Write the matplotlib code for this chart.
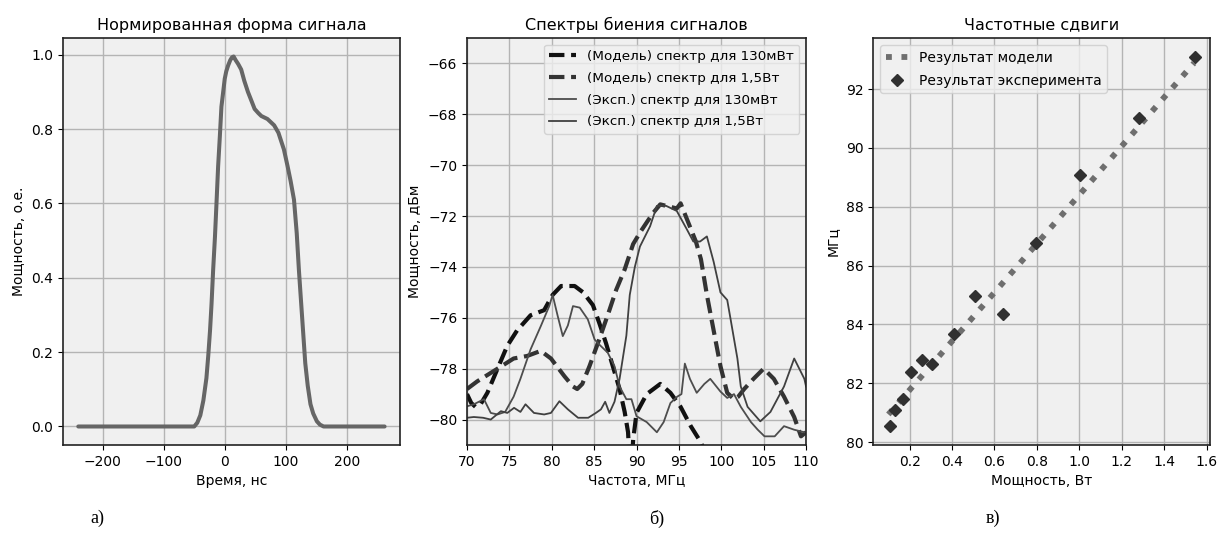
import matplotlib
matplotlib.use("Agg")
import matplotlib.pyplot as plt

# --- a) normalised pulse shape ---
t_ns = [-240, -50, -45, -40, -35, -30, -27, -24, -21.6, -19, -16, -13.5, -10.8,
        -8, -5.4, -2.5, 0, 2.5, 5.4, 9, 12, 14.6, 18, 22, 27, 32, 38, 44, 49,
        55, 60, 70, 81, 88, 92, 97, 103, 108, 113.5, 118, 121.6, 124.5, 127,
        129.5, 132, 136, 140.5, 145, 151, 156, 162, 262]
p_norm = [0.0, 0.0, 0.01, 0.03, 0.07, 0.13, 0.19, 0.26, 0.33, 0.42, 0.51, 0.60,
          0.70, 0.78, 0.86, 0.90, 0.935, 0.955, 0.97, 0.985, 0.993, 0.995,
          0.985, 0.975, 0.96, 0.93, 0.90, 0.875, 0.854, 0.843, 0.835, 0.827,
          0.81, 0.79, 0.77, 0.745, 0.70, 0.66, 0.61, 0.52, 0.42, 0.35, 0.29,
          0.23, 0.17, 0.11, 0.06, 0.035, 0.014, 0.005, 0.0, 0.0]

# --- b) beat spectra ---
m130_f = [70, 70.5, 71.0, 71.6, 72.4, 73.6, 74.75, 75.9, 77.5, 79.1, 80.1, 81.1,
          82.0, 82.7, 83.7, 84.85, 85.6, 86.4, 87.2, 88.0, 88.6, 89.0, 89.3,
          89.6, 90.0, 91.2, 92.8, 94.0, 95.2, 96.4, 97.6, 98.3]
m130_p = [-79.0, -79.35, -79.5, -79.4, -78.95, -78.0, -77.1, -76.5, -75.9,
          -75.7, -75.1, -74.75, -74.75, -74.75, -75.0, -75.5, -76.2, -77.0,
          -77.9, -78.8, -79.7, -80.5, -82.5, -80.8, -79.74, -79.0, -78.6,
          -78.95, -79.5, -80.26, -80.9, -81.5]

m15_f = [70, 71.2, 72.4, 73.6, 75.5, 77.1, 78.7, 79.9, 81.5, 82.5, 83.0, 83.6,
         84.45, 85.6, 86.8, 87.6, 88.6, 89.6, 90.5, 91.3, 92.0, 92.8, 93.5,
         94.75, 95.2, 95.8, 96.4, 97.0, 97.6, 98.3, 99.1, 99.9, 100.7, 101.5,
         102.0, 102.7, 103.8, 105.0, 106.2, 107.4, 108.6, 109.4, 110]
m15_p = [-78.8, -78.5, -78.25, -78.0, -77.6, -77.5, -77.3, -77.6, -78.3, -78.7,
         -78.8, -78.6, -77.9, -76.85, -75.7, -74.9, -74.1, -73.1, -72.6, -72.2,
         -71.86, -71.54, -71.6, -71.7, -71.5, -72.0, -72.5, -73.0, -73.7, -75.1,
         -76.5, -77.9, -78.95, -79.2, -79.1, -78.8, -78.4, -78.0, -78.4, -79.1,
         -79.9, -80.66, -80.5]

e130_f = [70, 70.8, 72.0, 72.8, 73.6, 74.5, 75.5, 76.3, 77.5, 78.7, 79.7, 80.1,
          80.7, 81.3, 81.9, 82.5, 83.3, 84.25, 85.05, 85.6, 86.6, 87.4, 88.0,
          88.8, 89.4, 90.0, 91.2, 92.4, 93.2, 94.0, 94.8, 95.3, 95.7, 96.3,
          97.1, 98.0, 98.7, 99.9, 100.7, 101.5, 102.3, 103.5, 104.3, 105.1,
          106.3, 107.4, 108.6, 109.8, 110]
e130_p = [-79.48, -79.4, -79.2, -79.74, -79.8, -79.7, -79.1, -78.4, -77.24,
          -76.33, -75.54, -75.1, -75.93, -76.72, -76.3, -75.54, -75.6, -76.06,
          -76.85, -77.05, -77.37, -77.9, -78.7, -79.2, -79.2, -79.87, -80.1,
          -80.5, -80.1, -79.35, -79.1, -79.0, -77.8, -78.4, -78.95, -78.6,
          -78.4, -78.9, -79.15, -79.0, -79.5, -80.1, -80.4, -80.66, -80.66,
          -80.26, -80.4, -80.5, -80.5]

e15_f = [70, 70.8, 71.9, 72.8, 74.0, 74.75, 75.55, 76.3, 76.9, 77.9, 79.1, 79.9,
         80.9, 81.9, 83.1, 84.3, 85.2, 85.8, 86.3, 86.8, 87.4, 88.0, 88.8, 89.2,
         89.8, 90.4, 91.6, 92.4, 93.5, 94.75, 95.9, 96.7, 97.5, 98.3, 99.1,
         99.9, 100.7, 101.1, 101.9, 102.3, 103.1, 104.6, 105.8, 107.4, 108.6,
         109.8, 110]
e15_p = [-79.93, -79.9, -79.93, -80.0, -79.67, -79.74, -79.54, -79.7, -79.4,
         -79.74, -79.8, -79.74, -79.28, -79.6, -79.93, -79.93, -79.74, -79.6,
         -79.3, -79.74, -79.3, -78.4, -76.7, -75.1, -74.0, -73.2, -72.4, -71.6,
         -71.6, -71.8, -72.5, -73.0, -73.0, -72.8, -73.8, -75.0, -75.3, -76.06,
         -77.6, -78.7, -79.5, -80.07, -79.7, -78.7, -77.6, -78.4, -78.7]

# --- c) frequency shift vs power ---
model_w = [0.10, 1.54]
model_mhz = [80.94, 92.89]
exp_w = [0.108, 0.130, 0.169, 0.208, 0.260, 0.306, 0.407, 0.508, 0.638,
         0.795, 1.001, 1.280, 1.543]
exp_mhz = [80.53, 81.10, 81.48, 82.38, 82.78, 82.67, 83.69, 84.97, 84.35,
           86.76, 89.08, 91.01, 93.11]

plt.rcParams.update({
    "font.family": "DejaVu Sans",
    "font.size": 10,
    "axes.facecolor": "#f0f0f0",
    "axes.edgecolor": "#222222",
    "axes.linewidth": 1.2,
    "grid.color": "#b4b4b4",
    "grid.linewidth": 1.0,
    "legend.labelspacing": 0.65,
})

fig = plt.figure(figsize=(12.2, 5.47), dpi=100)
fig.patch.set_facecolor("white")
ax1 = fig.add_axes([0.0516, 0.1865, 0.2762, 0.744])
ax2 = fig.add_axes([0.3828, 0.1865, 0.2779, 0.744])
ax3 = fig.add_axes([0.7156, 0.1865, 0.2762, 0.744])

ax1.plot(t_ns, p_norm, color="#666666", lw=2.9, solid_capstyle="round")
ax1.set_title("Нормированная форма сигнала", fontsize=11.5)
ax1.set_xlabel("Время, нс")
ax1.set_ylabel("Мощность, о.е.")
ax1.set_xticks([-200, -100, 0, 100, 200])
ax1.grid(True)

ax2.plot(m130_f, m130_p, "--", color="#111111", lw=3,
         label="(Модель) спектр для 130мВт")
ax2.plot(m15_f, m15_p, "--", color="#333333", lw=3,
         label="(Модель) спектр для 1,5Вт")
ax2.plot(e130_f, e130_p, "-", color="#4d4d4d", lw=1.3,
         label="(Эксп.) спектр для 130мВт")
ax2.plot(e15_f, e15_p, "-", color="#404040", lw=1.3,
         label="(Эксп.) спектр для 1,5Вт")
ax2.set_xlim(70, 110)
ax2.set_ylim(-81, -65)
ax2.set_yticks([-80, -78, -76, -74, -72, -70, -68, -66])
ax2.set_title("Спектры биения сигналов", fontsize=11.5)
ax2.set_xlabel("Частота, МГц")
ax2.set_ylabel("Мощность, дБм")
ax2.grid(True)
ax2.legend(loc="upper right", fontsize=9.7)

ax3.plot(model_w, model_mhz, ":", color="#6e6e6e", lw=4.2,
         label="Результат модели")
ax3.plot(exp_w, exp_mhz, "D", color="#303030", ms=6.5, ls="none",
         label="Результат эксперимента")
ax3.set_title("Частотные сдвиги", fontsize=11.5)
ax3.set_xlabel("Мощность, Вт")
ax3.set_ylabel("МГц")
ax3.set_xticks([0.2, 0.4, 0.6, 0.8, 1.0, 1.2, 1.4, 1.6])
ax3.grid(True)
ax3.legend(loc="upper left", fontsize=10, handlelength=1.6)

for x, s in [(0.0795, "а)"), (0.5385, "б)"), (0.814, "в)")]:
    fig.text(x, 0.052, s, family="Liberation Serif", fontsize=13,
             ha="center", va="center")

fig.savefig("out.png", dpi=100, facecolor="white")
